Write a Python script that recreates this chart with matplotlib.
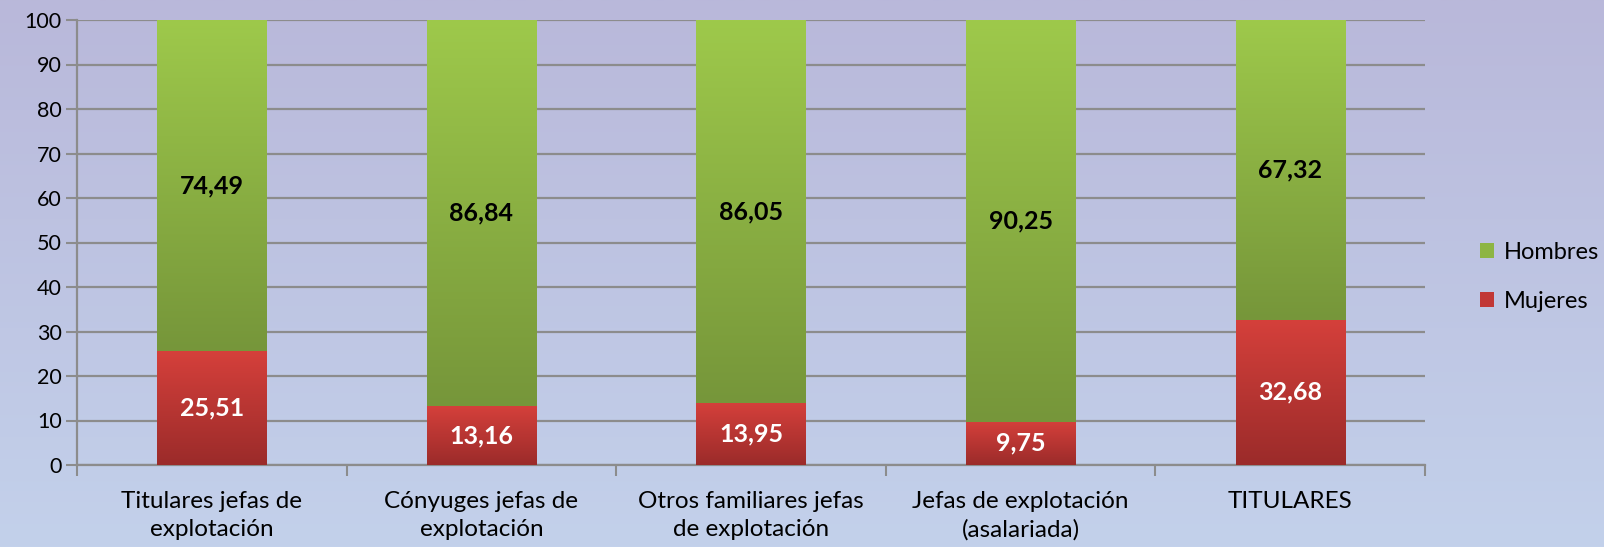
import numpy as np
import matplotlib
matplotlib.use('Agg')
import matplotlib.pyplot as plt
from matplotlib.colors import LinearSegmentedColormap
from matplotlib.patches import Patch

categorias = ['Titulares jefas de\nexplotación', 'Cónyuges jefas de\nexplotación',
              'Otros familiares jefas\nde explotación', 'Jefas de explotación\n(asalariada)',
              'TITULARES']
mujeres = [25.51, 13.16, 13.95, 9.75, 32.68]
hombres = [74.49, 86.84, 86.05, 90.25, 67.32]
yticks = [0, 10, 20, 30, 40, 50, 60, 70, 80, 90, 100]

plt.rcParams['font.family'] = ['Lato', 'DejaVu Sans']

fig = plt.figure(figsize=(16.04, 5.47), dpi=100)

# background gradient (lavender top -> light blue bottom)
bg = fig.add_axes([0, 0, 1, 1], zorder=0)
bg_cmap = LinearSegmentedColormap.from_list('bg', ['#c3d1eb', '#b9b8da'])
bg.imshow(np.linspace(0, 1, 256).reshape(-1, 1), aspect='auto', cmap=bg_cmap,
          origin='lower', extent=[0, 1, 0, 1])
bg.axis('off')

W, H = 1604, 547
ax = fig.add_axes([77 / W, 1 - 465 / H, (1425 - 77) / W, (465 - 20) / H], zorder=1)
ax.patch.set_alpha(0)

x = np.arange(len(categorias))
bw = 0.405
green = LinearSegmentedColormap.from_list('g', ['#76963a', '#9ec94b'])
red = LinearSegmentedColormap.from_list('r', ['#9b2b2a', '#d5403b'])
grad = np.linspace(0, 1, 256).reshape(-1, 1)

bars_m = ax.bar(x, mujeres, bw, color='#c9383a', zorder=3)
bars_h = ax.bar(x, hombres, bw, bottom=mujeres, color='#8db543', zorder=3)

for bars, cmap in ((bars_m, red), (bars_h, green)):
    for p in bars:
        x0, y0 = p.get_x(), p.get_y()
        im = ax.imshow(grad, aspect='auto', cmap=cmap, origin='lower',
                       extent=[x0, x0 + p.get_width(), y0, y0 + p.get_height()], zorder=4)
        im.set_clip_path(p)

for i in range(len(x)):
    ax.text(x[i], mujeres[i] / 2, f'{mujeres[i]:.2f}'.replace('.', ','), ha='center',
            va='center', color='white', fontsize=18, fontweight='bold', zorder=5)
    ax.text(x[i], mujeres[i] + hombres[i] / 2, f'{hombres[i]:.2f}'.replace('.', ','),
            ha='center', va='center', color='black', fontsize=18, fontweight='bold', zorder=5)

ax.set_xlim(-0.5, len(x) - 0.5)
ax.set_ylim(0, 100)
ax.set_yticks(yticks)
ax.tick_params(axis='y', labelsize=15.5, length=8, width=1.5, color='#8c8c8c', pad=3)
ax.grid(axis='y', color='#8c8c8c', linewidth=1.6, zorder=1)
ax.set_axisbelow(True)

ax.set_xticks(x)
ax.set_xticklabels(categorias, fontsize=17.5, linespacing=1.38)
ax.tick_params(axis='x', length=0, pad=19)
ax.set_xticks(np.arange(-0.5, len(x), 1), minor=True)
ax.tick_params(axis='x', which='minor', length=8, width=1.5, color='#8c8c8c')

for s in ['top', 'right']:
    ax.spines[s].set_visible(False)
for s in ['left', 'bottom']:
    ax.spines[s].set_color('#8c8c8c')
    ax.spines[s].set_linewidth(1.6)

handles = [Patch(facecolor='#8db543', label='Hombres'), Patch(facecolor='#c13736', label='Mujeres')]
fig.legend(handles=handles, loc='center left', bbox_to_anchor=(1459 / W, 1 - 277 / H),
           frameon=False, fontsize=17, handlelength=0.6, handleheight=0.6,
           handletextpad=0.4, labelspacing=1.2)

fig.savefig('out.png', dpi=100)
